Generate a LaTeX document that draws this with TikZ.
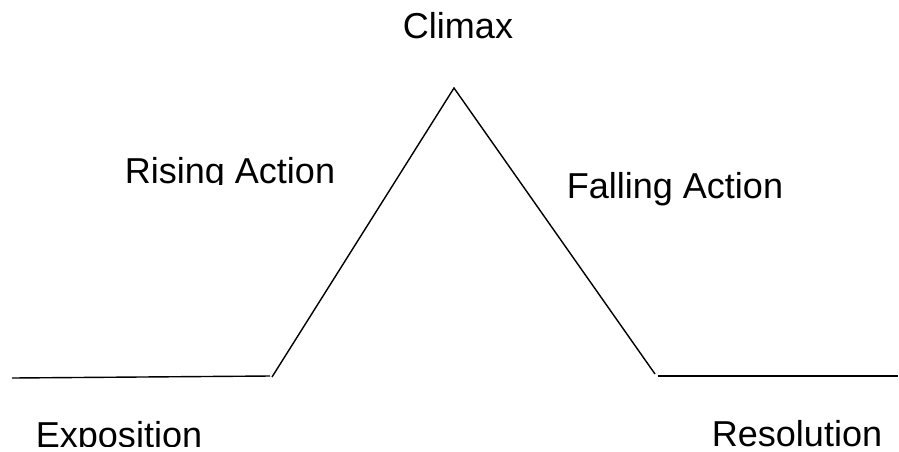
\documentclass[tikz,border=0pt]{standalone}
\usepackage{fontspec}
\setmainfont{Liberation Sans}
\usetikzlibrary{positioning}

\begin{document}
\begin{tikzpicture}[x=0.02cm, y=-0.02cm, line width=0.8pt]
    % Stile
    \tikzstyle{lbl} = [inner sep=0pt, anchor=base, font=\fontsize{20.5}{24}\selectfont]

    \useasboundingbox (0,0) rectangle (899,451);

    % Punti della curva
    \coordinate (expo_start) at (12,378);
    \coordinate (expo_end) at (270,376);
    \coordinate (rise_start) at (272,377);
    \coordinate (peak) at (454,88);
    \coordinate (fall_end) at (655,374);
    \coordinate (res_start) at (658,376);
    \coordinate (res_end) at (898,376);

    % Linee
    \draw (expo_start) -- (expo_end);
    \draw (rise_start) -- (peak) -- (fall_end);
    \draw (res_start) -- (res_end);

    % Etichette
    \node [lbl] (climax) at (458,38) {Climax};
    \node [lbl] (falling) at (675,198) {Falling Action};
    \node [lbl] (resolution) at (797,446) {Resolution};
    \begin{scope}
        \clip (0,0) rectangle (899,184);
        \node [lbl] (rising) at (230,183) {Rising Action};
    \end{scope}
    \begin{scope}
        \clip (0,0) rectangle (300,446);
        \node [lbl] (exposition) at (119,447) {Exposition};
    \end{scope}
\end{tikzpicture}
\end{document}
